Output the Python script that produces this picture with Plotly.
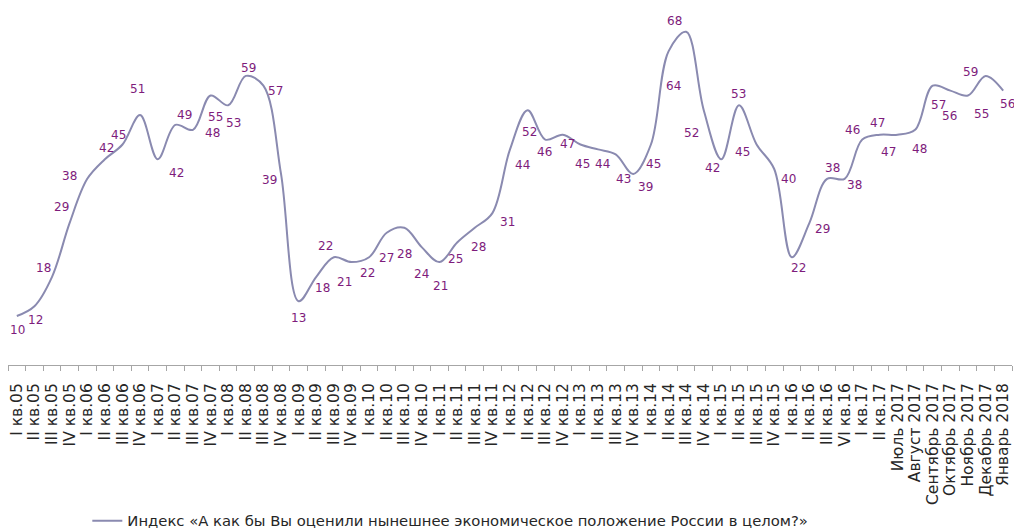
import plotly.graph_objects as go

categories = [
    "I кв.05", "II кв.05", "III кв.05", "IV кв.05",
    "I кв.06", "II кв.06", "III кв.06", "IV кв.06",
    "I кв.07", "II кв.07", "III кв.07", "IV кв.07",
    "I кв.08", "II кв.08", "III кв.08", "IV кв.08",
    "I кв.09", "II кв.09", "III кв.09", "IV кв.09",
    "I кв.10", "II кв.10", "III кв.10", "IV кв.10",
    "I кв.11", "II кв.11", "III кв.11", "IV кв.11",
    "I кв.12", "II кв.12", "III кв.12", "IV кв.12",
    "I кв.13", "II кв.13", "III кв.13", "IV кв.13",
    "I кв.14", "II кв.14", "III кв.14", "IV кв.14",
    "I кв.15", "II кв.15", "III кв.15", "IV кв.15",
    "I кв.16", "II кв.16", "III кв.16", "VI кв.16",
    "I кв.17", "II кв.17",
    "Июль 2017", "Август 2017", "Сентябрь 2017", "Октябрь 2017",
    "Ноябрь 2017", "Декабрь 2017", "Январь 2018",
]

index_values = [
    10, 12, 18, 29, 38, 42, 45, 51, 42, 49, 48, 55, 53, 59, 57, 39,
    13, 18, 22, 21, 22, 27, 28, 24, 21, 25, 28, 31, 44, 52, 46, 47,
    45, 44, 43, 39, 45, 64, 68, 52, 42, 53, 45, 40, 22, 29, 38, 38,
    46, 47, 47, 48, 57, 56, 55, 59, 56,
]

series_name = "Индекс «А как бы Вы оценили нынешнее экономическое положение России в целом?»"

# label offsets in pixels (dx right, dy down) relative to each point
label_offsets = [
    (1, 14), (1, 14), (-9, -9), (-8, -16), (-18, -3), (2, -11), (-4, -10), (-3, -26),
    (19, 14), (9, -10), (20, 3), (5, 21), (5, 18), (3, -8), (12, 5), (-12, 6),
    (0, 17), (6, 11), (-8, -11), (-7, 20), (-2, 16), (0, 25), (0, 26), (0, 27),
    (1, 24), (-2, 16), (4, 19), (15, 9), (12, 16), (2, 22), (-1, 12), (5, 9),
    (2, 19), (4, 15), (8, 25), (12, 13), (3, 19), (5, 35), (-12, -11), (-12, 23),
    (-9, 9), (0, -11), (-14, 7), (14, 10), (7, 11), (13, 6), (5, -11), (10, 6),
    (-10, -10), (-2, -12), (-9, 17), (4, 19), (6, 19), (-1, 25), (14, 18), (-15, -4),
    (4, 13),
]

line_color = "#8A8AB0"
label_color = "#7E1C7C"

fig = go.Figure()
fig.add_trace(go.Scatter(
    x=categories, y=index_values, mode="lines", name=series_name,
    line=dict(color=line_color, width=2, shape="spline", smoothing=1.0),
    hoverinfo="skip",
))

annotations = []
for cat, val, (dx, dy) in zip(categories, index_values, label_offsets):
    annotations.append(dict(
        x=cat, y=val, xref="x", yref="y", text=str(val), showarrow=False,
        xshift=dx, yshift=-dy, xanchor="center", yanchor="middle",
        font=dict(family="DejaVu Sans", size=12, color=label_color),
    ))

fig.update_layout(
    width=1014, height=530,
    margin=dict(l=8, r=2, t=22, b=165, autoexpand=False),
    paper_bgcolor="white", plot_bgcolor="white",
    showlegend=True,
    legend=dict(
        orientation="h", x=0.079, xanchor="left", y=-0.455, yanchor="middle",
        font=dict(family="DejaVu Sans", size=14.8, color="#262626"),
        bgcolor="rgba(0,0,0,0)",
    ),
    annotations=annotations,
    xaxis=dict(
        type="category", range=[-0.5, len(categories) - 0.5],
        automargin=False,
        tickmode="array", tickvals=categories, ticktext=categories,
        showgrid=False, zeroline=False,
        showline=True, linecolor="#A6A6A6", linewidth=1,
        ticks="outside", tickson="boundaries", ticklen=5, tickcolor="#A6A6A6",
        tickangle=-90, ticklabelstandoff=11,
        tickfont=dict(family="DejaVu Sans", size=15.5, color="#262626"),
    ),
    yaxis=dict(
        range=[0, 70], visible=False, showgrid=False, zeroline=False,
        automargin=False,
    ),
)

fig.write_html(
    "out.html",
    config={"displayModeBar": False},
    post_script="document.body.style.margin='0px';document.body.style.overflow='hidden';",
)
